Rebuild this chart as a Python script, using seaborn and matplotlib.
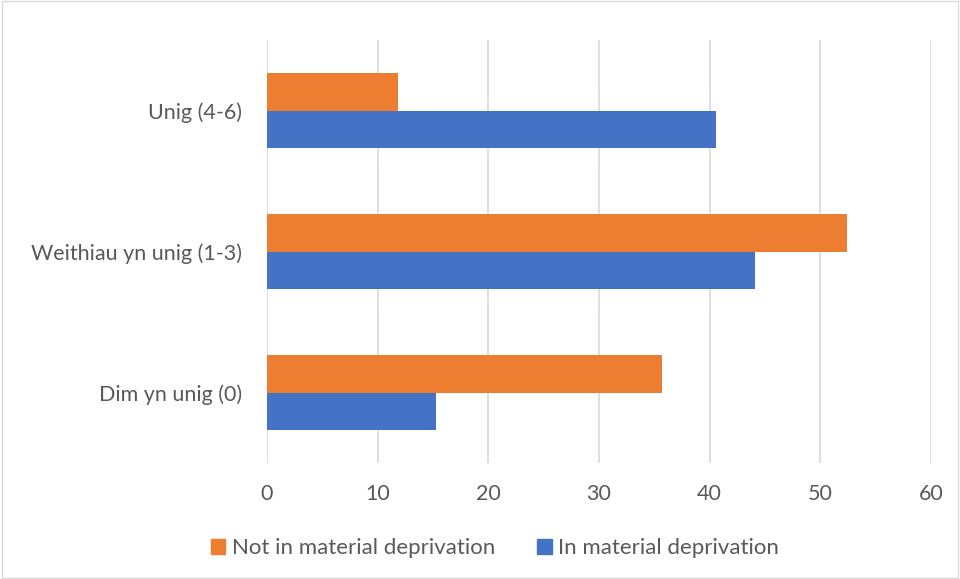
import matplotlib
matplotlib.use("Agg")
import matplotlib.pyplot as plt
import pandas as pd
import seaborn as sns
from matplotlib.patches import Rectangle

# data
categories = ["Unig (4-6)", "Weithiau yn unig (1-3)", "Dim yn unig (0)"]
series = ["Not in material deprivation", "In material deprivation"]
not_deprived = [11.8, 52.4, 35.7]
deprived = [40.6, 44.1, 15.3]
colors = ["#ED7D31", "#4472C4"]
x_ticks = [0, 10, 20, 30, 40, 50, 60]

df = pd.DataFrame({
    "category": categories * 2,
    "series": [series[0]] * 3 + [series[1]] * 3,
    "value": not_deprived + deprived,
})

sns.set_style("white")
plt.rcParams["font.family"] = ["Lato", "DejaVu Sans"]

fig = plt.figure(figsize=(9.6, 5.79), dpi=100)
ax = fig.add_axes([267 / 960, 1 - 463 / 579, (931 - 267) / 960, (463 - 40) / 579])

sns.barplot(data=df, x="value", y="category", hue="series", order=categories,
            hue_order=series, palette=colors, orient="h", width=0.53,
            saturation=1, gap=0, linewidth=0, ax=ax, legend=False)

ax.set_xlim(0, 60)
ax.set_xticks(x_ticks)
ax.set_ylim(2.5, -0.5)
ax.set_xlabel("")
ax.set_ylabel("")
ax.grid(axis="x", color="#D9D9D9", linewidth=1.2)
ax.set_axisbelow(True)
for s in ax.spines.values():
    s.set_visible(False)
ax.tick_params(axis="both", length=0, labelsize=15.5, labelcolor="#595959")
ax.tick_params(axis="x", pad=15)
ax.tick_params(axis="y", pad=18)

handles = [Rectangle((0, 0), 1, 1, color=c) for c in colors]
fig.legend(handles, series, loc="center", bbox_to_anchor=(495 / 960, 1 - 548 / 579),
           ncol=2, frameon=False, fontsize=16, labelcolor="#595959",
           handlelength=0.65, handleheight=0.65, handletextpad=0.3, columnspacing=1.9)

fig.patches.append(Rectangle((0.002, 0.002), 0.996, 0.996, transform=fig.transFigure,
                             fill=False, edgecolor="#D9D9D9", linewidth=1))

fig.savefig("out.png", dpi=100)
